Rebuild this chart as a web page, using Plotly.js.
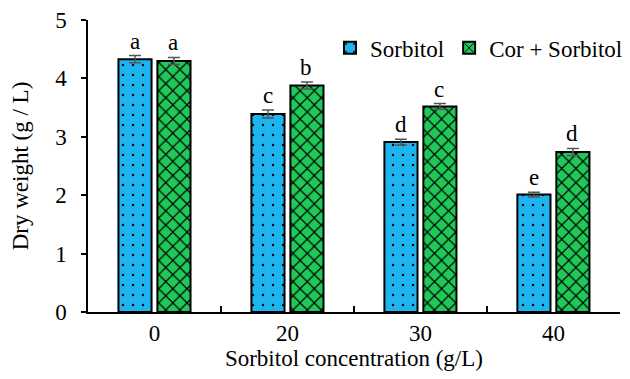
<!DOCTYPE html>
<html><head><meta charset="utf-8">
<script src="https://cdn.plot.ly/plotly-3.0.1.min.js"></script>
<style>body{margin:0;background:#fff}</style>
</head><body>
<div id="chart" style="width:630px;height:379px"></div>
<script>
var categories = ["0", "20", "30", "40"];
var sorbitol = [4.33, 3.39, 2.91, 2.01];
var sorbitolErr = [0.06, 0.07, 0.05, 0.04];
var corSorbitol = [4.30, 3.88, 3.52, 2.74];
var corSorbitolErr = [0.06, 0.06, 0.05, 0.06];
var sorbitolLetters = ["a", "c", "d", "e"];
var corLetters = ["a", "b", "c", "d"];
var yTicks = [0, 1, 2, 3, 4, 5];

var serif = "Liberation Serif";
var fs = 23;

var t1 = {
  type: "bar", name: "Sorbitol", x: categories, y: sorbitol,
  error_y: {type: "data", array: sorbitolErr, visible: true, color: "#555", thickness: 1.5, width: 6},
  marker: {color: "#1EB4F0", line: {color: "#000", width: 2},
    pattern: {shape: ".", fgcolor: "#000", bgcolor: "#1EB4F0", size: 10, solidity: 0.045}}
};
var t2 = {
  type: "bar", name: "Cor + Sorbitol", x: categories, y: corSorbitol,
  error_y: {type: "data", array: corSorbitolErr, visible: true, color: "#555", thickness: 1.5, width: 6},
  marker: {color: "#20C85A", line: {color: "#000", width: 2},
    pattern: {shape: "x", fgcolor: "#000", bgcolor: "#20C85A", size: 10, solidity: 0.22}}
};

var annotations = [];
categories.forEach(function(c, i){
  annotations.push({x: i, y: sorbitol[i] + sorbitolErr[i], xref: "x", yref: "y",
    text: sorbitolLetters[i], showarrow: false, xshift: -19, yanchor: "bottom", yshift: 0,
    font: {family: serif, size: fs, color: "#000"}});
  annotations.push({x: i, y: corSorbitol[i] + corSorbitolErr[i], xref: "x", yref: "y",
    text: corLetters[i], showarrow: false, xshift: 19, yanchor: "bottom", yshift: 0,
    font: {family: serif, size: fs, color: "#000"}});
});

var layout = {
  width: 630, height: 379,
  margin: {l: 88, r: 2, t: 20, b: 67},
  paper_bgcolor: "#fff", plot_bgcolor: "#fff",
  font: {family: serif, color: "#000"},
  barmode: "group", bargap: 0.414, bargroupgap: 0.15,
  showlegend: true,
  legend: {orientation: "h", x: 1.0, xanchor: "right", y: 0.978, yanchor: "top",
    font: {family: serif, size: fs, color: "#000"}, bgcolor: "rgba(0,0,0,0)", itemwidth: 30},
  xaxis: {
    type: "category", range: [-0.5, 3.5], domain: [0, 0.985], tickson: "boundaries", ticks: "inside", ticklen: 6, tickcolor: "#000", tickwidth: 1.5,
    showline: true, linecolor: "#000", linewidth: 1.5, showgrid: false, zeroline: false, tickangle: 0,
    tickfont: {family: serif, size: fs, color: "#000"},
    title: {text: "Sorbitol concentration (g/L)", font: {family: serif, size: fs, color: "#000"}, standoff: 2}
  },
  yaxis: {
    range: [0, 5], tickvals: yTicks, ticks: "outside", ticklen: 5, tickcolor: "#000", tickwidth: 1.5,
    showline: true, linecolor: "#000", linewidth: 1.5, showgrid: false, zeroline: false,
    ticklabelstandoff: 10,
    tickfont: {family: serif, size: fs, color: "#000"},
    title: {text: "Dry weight (g / L)", font: {family: serif, size: fs, color: "#000"}, standoff: 20}
  },
  annotations: annotations
};
Plotly.newPlot("chart", [t1, t2], layout, {displayModeBar: false});
</script>
</body></html>
